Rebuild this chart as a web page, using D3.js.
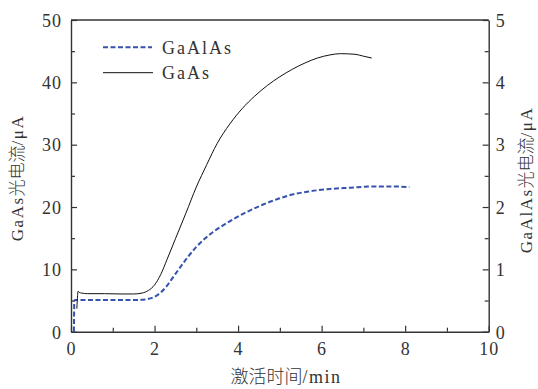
<!DOCTYPE html>
<html>
<head>
<meta charset="utf-8">
<script src="https://cdn.jsdelivr.net/npm/d3@7"></script>
<style>
  body { margin: 0; background: #fff; }
  svg { display: block; }
  .tick text { font-family: 'Liberation Serif', 'DejaVu Serif', serif; font-size: 18px; fill: #333; letter-spacing: 1px; }
</style>
</head>
<body>
<svg id="chart" width="538" height="389"></svg>
<script>
// GaAs photocurrent (left axis, μA)
const gaasTime = [0.14, 0.15, 0.17, 0.2, 0.25, 0.4, 0.8, 1.2, 1.5, 1.7, 1.85, 2.0, 2.15, 2.3, 2.5, 2.75, 3.0, 3.25, 3.5, 3.8, 4.1, 4.4, 4.7, 5.0, 5.3, 5.6, 5.9, 6.2, 6.45, 6.8, 7.0, 7.2];
const gaasCurrent = [3.7, 5.0, 6.5, 6.3, 6.2, 6.1, 6.1, 6.05, 6.05, 6.2, 6.6, 7.5, 9.2, 11.6, 14.9, 19.0, 23.2, 26.8, 30.2, 33.3, 35.8, 37.8, 39.5, 40.9, 42.1, 43.1, 43.9, 44.4, 44.6, 44.5, 44.2, 43.9];

// GaAlAs photocurrent (right axis, μA)
const gaalasTime = [0.07, 0.08, 0.1, 0.3, 0.8, 1.3, 1.6, 1.8, 2.0, 2.15, 2.3, 2.45, 2.6, 2.8, 3.0, 3.2, 3.4, 3.65, 3.95, 4.3, 4.6, 5.0, 5.3, 5.7, 6.2, 6.7, 7.2, 7.7, 8.1];
const gaalasCurrent = [0, 0.5, 0.51, 0.51, 0.51, 0.51, 0.51, 0.52, 0.56, 0.63, 0.74, 0.88, 1.02, 1.2, 1.36, 1.49, 1.6, 1.71, 1.83, 1.95, 2.04, 2.14, 2.2, 2.25, 2.29, 2.31, 2.33, 2.33, 2.32];

const xTicks = [0, 2, 4, 6, 8, 10];
const leftTicks = [0, 10, 20, 30, 40, 50];
const rightTicks = [0, 1, 2, 3, 4, 5];
const legendLabels = ["GaAlAs", "GaAs"];

const svg = d3.select("#chart");
const margin = { top: 20, right: 49.3, bottom: 57.3, left: 71 };
const W = 538, H = 389;

const x = d3.scaleLinear().domain([0, 10]).range([margin.left, W - margin.right]);
const yL = d3.scaleLinear().domain([0, 50]).range([H - margin.bottom, margin.top]);
const yR = d3.scaleLinear().domain([0, 5]).range([H - margin.bottom, margin.top]);

const axisColor = "#333";
const serif = "'Liberation Serif', 'DejaVu Serif', serif";
const cjk = "'Noto Sans CJK SC', sans-serif";

function styleAxis(g) {
  g.select(".domain").attr("stroke", axisColor).attr("stroke-width", 1.4);
  g.selectAll(".tick line").attr("stroke", axisColor).attr("stroke-width", 1.2);
}

// minor ticks
svg.append("g")
  .attr("transform", `translate(0,${H - margin.bottom})`)
  .call(d3.axisTop(x).tickValues(d3.range(1, 10, 2)).tickSize(4).tickFormat(""))
  .call(g => g.select(".domain").remove())
  .call(styleAxis);
svg.append("g")
  .attr("transform", `translate(${margin.left},0)`)
  .call(d3.axisRight(yL).tickValues(d3.range(5, 50, 10)).tickSize(4).tickFormat(""))
  .call(g => g.select(".domain").remove())
  .call(styleAxis);
svg.append("g")
  .attr("transform", `translate(${W - margin.right},0)`)
  .call(d3.axisLeft(yR).tickValues(d3.range(0.5, 5, 1)).tickSize(4).tickFormat(""))
  .call(g => g.select(".domain").remove())
  .call(styleAxis);

// major axes
const gx = svg.append("g")
  .attr("transform", `translate(0,${H - margin.bottom})`)
  .call(d3.axisTop(x).tickValues(xTicks).tickSize(6).tickSizeOuter(0).tickFormat(d3.format("d")))
  .call(styleAxis);
gx.selectAll(".tick text").attr("y", 23).attr("dy", "0");

const gl = svg.append("g")
  .attr("transform", `translate(${margin.left},0)`)
  .call(d3.axisRight(yL).tickValues(leftTicks).tickSize(6).tickSizeOuter(0).tickFormat(d3.format("d")))
  .call(styleAxis);
gl.selectAll(".tick text").attr("x", -9).attr("text-anchor", "end").attr("dy", "0.35em");

const gr = svg.append("g")
  .attr("transform", `translate(${W - margin.right},0)`)
  .call(d3.axisLeft(yR).tickValues(rightTicks).tickSize(6).tickSizeOuter(0).tickFormat(d3.format("d")))
  .call(styleAxis);
gr.selectAll(".tick text").attr("x", 7).attr("text-anchor", "start").attr("dy", "0.35em");

// top border
svg.append("line")
  .attr("x1", margin.left).attr("x2", W - margin.right)
  .attr("y1", margin.top).attr("y2", margin.top)
  .attr("stroke", axisColor).attr("stroke-width", 1.4);

// series
const gaasData = gaasTime.map((t, i) => [t, gaasCurrent[i]]);
const gaalasData = gaalasTime.map((t, i) => [t, gaalasCurrent[i]]);

svg.append("path")
  .datum(gaalasData)
  .attr("fill", "none")
  .attr("stroke", "#3553ad")
  .attr("stroke-width", 2)
  .attr("stroke-dasharray", "5,2.5")
  .attr("d", d3.line().x(d => x(d[0])).y(d => yR(d[1])).curve(d3.curveMonotoneX));

svg.append("path")
  .datum(gaasData)
  .attr("fill", "none")
  .attr("stroke", "#111")
  .attr("stroke-width", 1)
  .attr("d", d3.line().x(d => x(d[0])).y(d => yL(d[1])).curve(d3.curveMonotoneX));

// legend
const legend = svg.append("g");
legend.append("line")
  .attr("x1", 103).attr("x2", 152).attr("y1", 47.3).attr("y2", 47.3)
  .attr("stroke", "#3553ad").attr("stroke-width", 2).attr("stroke-dasharray", "5,2.5");
legend.append("line")
  .attr("x1", 103).attr("x2", 153).attr("y1", 72.7).attr("y2", 72.7)
  .attr("stroke", "#111").attr("stroke-width", 1);
legend.selectAll("text")
  .data(legendLabels)
  .join("text")
  .attr("x", 162)
  .attr("y", (d, i) => 53.5 + i * 25.4)
  .style("font-family", serif)
  .attr("font-size", 18)
  .attr("letter-spacing", 2)
  .attr("fill", "#333")
  .text(d => d);

// axis titles
const xTitle = svg.append("text")
  .attr("x", 286).attr("y", 383)
  .attr("text-anchor", "middle")
  .attr("font-size", 18)
  .attr("fill", "#333");
xTitle.append("tspan").style("font-family", cjk).style("font-weight", 300).text("激活时间");
xTitle.append("tspan").style("font-family", serif).attr("letter-spacing", 1.5).text("/min");

const yTitle = svg.append("text")
  .attr("transform", "translate(23,178) rotate(-90)")
  .attr("text-anchor", "middle")
  .attr("font-size", 17)
  .attr("fill", "#333");
yTitle.append("tspan").style("font-family", serif).attr("letter-spacing", 1.5).text("GaAs");
yTitle.append("tspan").style("font-family", cjk).style("font-weight", 300).text("光电流");
yTitle.append("tspan").style("font-family", serif).attr("letter-spacing", 1.5).text("/μA");

const y2Title = svg.append("text")
  .attr("transform", "translate(532,180) rotate(-90)")
  .attr("text-anchor", "middle")
  .attr("font-size", 17)
  .attr("fill", "#333");
y2Title.append("tspan").style("font-family", serif).attr("letter-spacing", 1.5).text("GaAlAs");
y2Title.append("tspan").style("font-family", cjk).style("font-weight", 300).text("光电流");
y2Title.append("tspan").style("font-family", serif).attr("letter-spacing", 1.5).text("/μA");
</script>
</body>
</html>
